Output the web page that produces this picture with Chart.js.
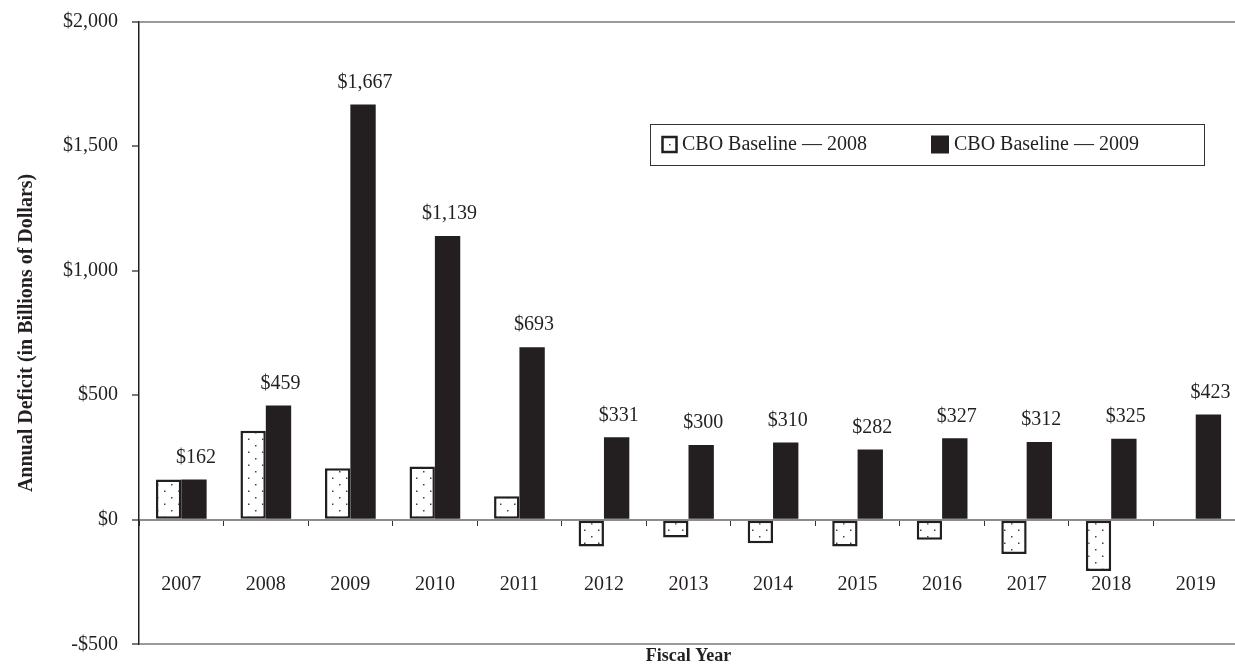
<!DOCTYPE html>
<html>
<head>
<meta charset="utf-8">
<script src="https://cdn.jsdelivr.net/npm/chart.js@4.4.1/dist/chart.umd.min.js"></script>
<style>
  html, body { margin: 0; padding: 0; background: #fff; overflow: hidden; }
</style>
</head>
<body>
<canvas id="deficitChart" width="1238" height="666"></canvas>
<script>
const fiscalYears = ["2007", "2008", "2009", "2010", "2011", "2012", "2013",
  "2014", "2015", "2016", "2017", "2018", "2019"];
// billions of dollars
const baseline2008 = [162, 357, 207, 214, 95, -107, -71, -94, -107, -80, -137, -205, null];
const baseline2009 = [162, 459, 1667, 1139, 693, 331, 300, 310, 282, 327, 312, 325, 423];
const seriesNames = ["CBO Baseline \u2014 2008", "CBO Baseline \u2014 2009"];
const yTickValues = [-500, 0, 500, 1000, 1500, 2000];

const INK = "#231f20";
const SERIF = "'Liberation Serif', 'Times New Roman', serif";

function money(v) {
  return (v < 0 ? "-$" : "$") + Math.abs(v).toLocaleString("en-US");
}

const canvas = document.getElementById("deficitChart");
const ctx = canvas.getContext("2d");

// stippled fill for the 2008 baseline bars
function makeStipple() {
  const tile = document.createElement("canvas");
  tile.width = 14;
  tile.height = 13;
  const t = tile.getContext("2d");
  t.fillStyle = "#fff";
  t.fillRect(0, 0, 14, 13);
  t.fillStyle = "#444";
  t.fillRect(3, 3, 1.5, 1.5);
  t.fillRect(10, 9.5, 1.5, 1.5);
  return ctx.createPattern(tile, "repeat");
}
const stipple = makeStipple();

// dollar amounts above the 2009 baseline bars
const valueLabels = {
  id: "valueLabels",
  afterDatasetsDraw(chart) {
    const c = chart.ctx;
    const meta = chart.getDatasetMeta(1);
    const values = chart.data.datasets[1].data;
    c.save();
    c.font = "20px " + SERIF;
    c.fillStyle = INK;
    c.textAlign = "center";
    c.textBaseline = "middle";
    meta.data.forEach((bar, i) => {
      c.fillText(money(values[i]), bar.x + 2, bar.y - 22);
    });
    c.restore();
  }
};

// boxed legend sitting inside the plot area
const boxLegend = {
  id: "boxLegend",
  afterDraw(chart) {
    const c = chart.ctx;
    const area = chart.chartArea;
    const left = area.left + 511;
    const top = area.top + 102;
    c.save();
    c.strokeStyle = "#333";
    c.lineWidth = 1;
    c.strokeRect(Math.round(left) + 0.5, Math.round(top) + 0.5, 554, 41);

    c.font = "20px " + SERIF;
    c.textBaseline = "middle";
    const midY = top + 21;

    // 2008 marker: open square with a dot
    c.fillStyle = "#fff";
    c.fillRect(left + 11, midY - 9, 17, 18);
    c.strokeStyle = INK;
    c.lineWidth = 2.5;
    c.strokeRect(left + 12.5, midY - 7.5, 14, 15);
    c.fillStyle = "#444";
    c.fillRect(left + 19, midY - 0.5, 1.5, 1.5);
    c.fillStyle = INK;
    c.fillText(chart.data.datasets[0].label, left + 32, midY);

    // 2009 marker: solid square
    c.fillRect(left + 281, midY - 9, 18, 18);
    c.fillText(chart.data.datasets[1].label, left + 304, midY);
    c.restore();
  }
};

new Chart(canvas, {
  type: "bar",
  data: {
    labels: fiscalYears,
    datasets: [
      {
        label: seriesNames[0],
        data: baseline2008,
        backgroundColor: stipple,
        borderColor: INK,
        borderWidth: 2.5,
        borderSkipped: false,
      },
      {
        label: seriesNames[1],
        data: baseline2009,
        backgroundColor: INK,
        borderWidth: 0,
      },
    ],
  },
  options: {
    responsive: false,
    animation: false,
    categoryPercentage: 0.6,
    barPercentage: 1.0,
    layout: { padding: { top: 21.5, right: 0, left: 0, bottom: 0 } },
    scales: {
      x: {
        position: { y: 0 },
        grid: {
          drawOnChartArea: false,
          drawTicks: true,
          tickLength: 5,
          tickColor: "#333",
          tickWidth: 1,
          offset: true,
        },
        border: { display: true, color: "#8c8c8c", width: 2 },
        ticks: {
          font: { family: SERIF, size: 20 },
          color: INK,
          padding: 48,
        },
        afterFit(scale) {
          scale.height = 0.9;
          scale.paddingLeft = 0;
          scale.paddingRight = 0;
        },
      },
      y: {
        min: -500,
        max: 2000,
        afterBuildTicks(scale) {
          scale.ticks = yTickValues.map((v) => ({ value: v }));
        },
        ticks: {
          callback: (v) => money(v),
          font: { family: SERIF, size: 20 },
          color: INK,
          padding: 14,
        },
        grid: {
          color: (c) =>
            c.tick && (c.tick.value === 2000 || c.tick.value === -500)
              ? "#9a9a9a"
              : "rgba(0,0,0,0)",
          lineWidth: 2,
          tickLength: 7,
          tickColor: INK,
          tickWidth: 1.2,
        },
        border: { color: INK, width: 1.5 },
        title: {
          display: true,
          text: "Annual Deficit (in Billions of Dollars)",
          font: { family: SERIF, size: 20, weight: "bold" },
          color: INK,
          padding: { top: 15, bottom: 0 },
        },
        afterFit(scale) {
          scale.width = 139;
          scale.paddingTop = 0;
          scale.paddingBottom = 0;
        },
      },
    },
    plugins: {
      legend: { display: false },
      tooltip: { enabled: false },
      title: {
        display: true,
        position: "bottom",
        fullSize: false,
        text: "Fiscal Year",
        font: { family: SERIF, size: 18, weight: "bold" },
        color: INK,
        padding: { top: 1, bottom: -1 },
      },
    },
  },
  plugins: [valueLabels, boxLegend],
});
</script>
</body>
</html>
